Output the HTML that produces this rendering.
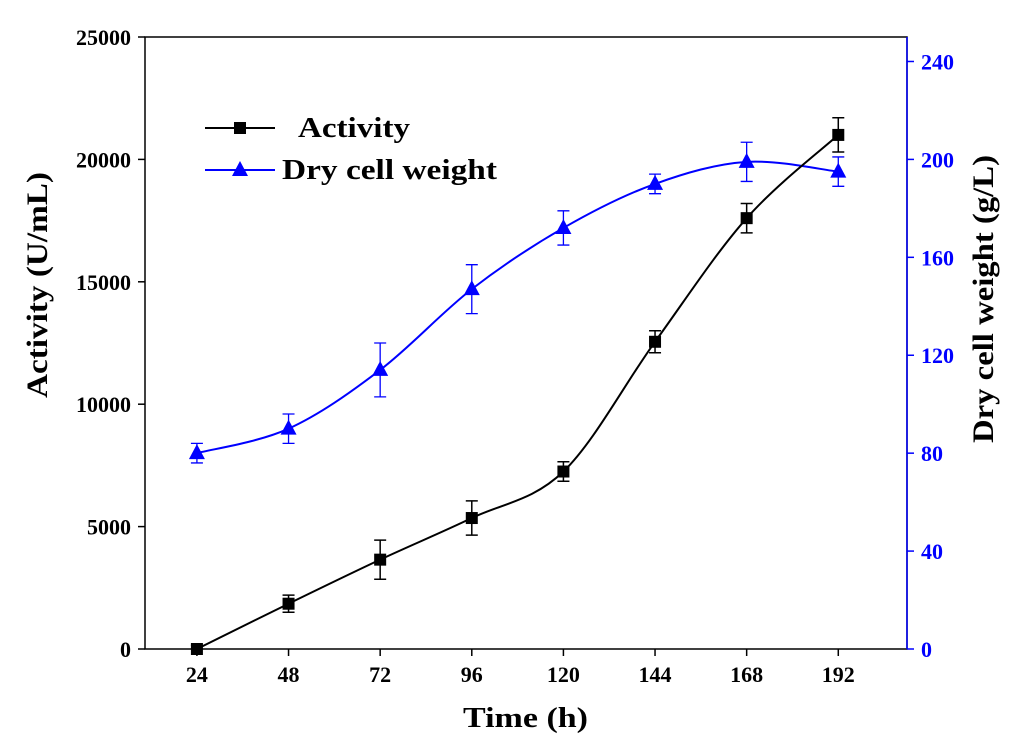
<!DOCTYPE html>
<html><head><meta charset="utf-8"><style>
body{margin:0;background:#fff}
svg text{font-family:"Liberation Serif",serif;font-weight:bold}
</style></head><body>
<svg id="chart" width="1024" height="748" xmlns="http://www.w3.org/2000/svg"></svg>
<script>
const xTicks=[24,48,72,96,120,144,168,192];
const activity=[0,1850,3650,5350,7250,12550,17600,21000];
const activityErr=[150,350,800,700,400,450,600,700];
const dcw=[80,90,114,147,172,190,199,195];
const dcwErr=[4,6,11,10,7,4,8,6];
const yLeftTicks=[0,5000,10000,15000,20000,25000];
const yRightTicks=[0,40,80,120,160,200,240];

const L=145,R=907,T=37,B=649;
const X=v=>L+(v-10.4)/(210-10.4)*(R-L);
const YL=v=>B-v/25000*(B-T);
const YR=v=>B-v/250*(B-T);
const svg=document.getElementById('chart');
const NS='http://www.w3.org/2000/svg';
function el(tag,attrs,parent){const e=document.createElementNS(NS,tag);for(const k in attrs)e.setAttribute(k,attrs[k]);(parent||svg).appendChild(e);return e;}
function txt(s,attrs){const e=el('text',attrs);e.textContent=s;return e;}

const frame=el('rect',{x:L,y:T,width:R-L,height:B-T,fill:'none',stroke:'#000','stroke-width':1.5});


const rax=el('line',{x1:R,y1:T,x2:R,y2:B,stroke:'#0000ff','stroke-width':1.5});



xTicks.forEach(v=>{
  el('line',{x1:X(v),y1:B,x2:X(v),y2:B+7,stroke:'#000','stroke-width':1.5});
  const t=txt(String(v),{x:X(v),y:B+33,'text-anchor':'middle','font-size':22});
  
  
});
yLeftTicks.forEach(v=>{
  el('line',{x1:L-7,y1:YL(v),x2:L,y2:YL(v),stroke:'#000','stroke-width':1.5});
  const t=txt(String(v),{x:L-14,y:YL(v)+8,'text-anchor':'end','font-size':22});
  
  
});
yRightTicks.forEach(v=>{
  el('line',{x1:R,y1:YR(v),x2:R+7,y2:YR(v),stroke:'#0000ff','stroke-width':1.5});
  const t=txt(String(v),{x:R+14,y:YR(v)+8,'font-size':22,fill:'#0000ff'});
  
  
});
const xt=txt('Time (h)',{x:463,y:727,'font-size':28,textLength:125,lengthAdjust:'spacingAndGlyphs'});


const yl=txt('Activity (U/mL)',{x:-113,y:0,'font-size':30,textLength:226,lengthAdjust:'spacingAndGlyphs',transform:'translate(47,285) rotate(-90)'});


const yr=txt('Dry cell weight (g/L)',{x:-144,y:0,'font-size':30,textLength:288,lengthAdjust:'spacingAndGlyphs',transform:'translate(993,299) rotate(-90)'});



function spline(pts){
  let d=`M${pts[0][0]},${pts[0][1]}`;
  for(let i=0;i<pts.length-1;i++){
    const p0=pts[i-1]||pts[i],p1=pts[i],p2=pts[i+1],p3=pts[i+2]||p2;
    const c1=[p1[0]+(p2[0]-p0[0])/6,p1[1]+(p2[1]-p0[1])/6];
    const c2=[p2[0]-(p3[0]-p1[0])/6,p2[1]-(p3[1]-p1[1])/6];
    d+=` C${c1[0]},${c1[1]} ${c2[0]},${c2[1]} ${p2[0]},${p2[1]}`;
  }
  return d;
}
const dp=el('path',{d:spline(xTicks.map((x,i)=>[X(x),YR(dcw[i])])),fill:'none',stroke:'#0000ff','stroke-width':2});


xTicks.forEach((x,i)=>{
  const cx=X(x),cy=YR(dcw[i]),y1=YR(dcw[i]+dcwErr[i]),y2=YR(dcw[i]-dcwErr[i]);
  el('path',{d:`M${cx},${y1}V${y2}M${cx-6},${y1}H${cx+6}M${cx-6},${y2}H${cx+6}`,stroke:'#0000ff','stroke-width':1.3,fill:'none'});
  const m=el('polygon',{points:`${cx},${cy-9} ${cx-8},${cy+6} ${cx+8},${cy+6}`,fill:'#0000ff'});
  
  
});
const ap=el('path',{d:spline(xTicks.map((x,i)=>[X(x),YL(activity[i])])),fill:'none',stroke:'#000','stroke-width':2});


xTicks.forEach((x,i)=>{
  const cx=X(x),cy=YL(activity[i]),y1=YL(activity[i]+activityErr[i]),y2=YL(Math.max(0,activity[i]-activityErr[i]));
  el('path',{d:`M${cx},${y1}V${y2}M${cx-6},${y1}H${cx+6}M${cx-6},${y2}H${cx+6}`,stroke:'#000','stroke-width':1.5,fill:'none'});
  const m=el('rect',{x:cx-6,y:cy-6,width:12,height:12,fill:'#000'});
  
  
});
el('line',{x1:205,y1:128,x2:275,y2:128,stroke:'#000','stroke-width':2});
el('rect',{x:234,y:122,width:12,height:12,fill:'#000'});
const l1=txt('Activity',{x:298,y:137,'font-size':29,textLength:112,lengthAdjust:'spacingAndGlyphs'});


el('line',{x1:205,y1:170,x2:275,y2:170,stroke:'#0000ff','stroke-width':2});
el('polygon',{points:'240,161 232,176 248,176',fill:'#0000ff'});
const l2=txt('Dry cell weight',{x:282,y:179,'font-size':29,textLength:215,lengthAdjust:'spacingAndGlyphs'});


</script>
</body></html>
